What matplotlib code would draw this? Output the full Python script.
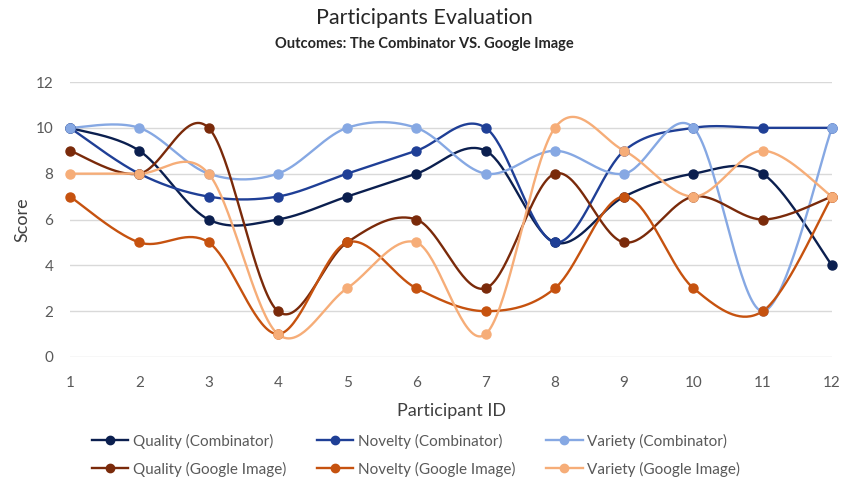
import numpy as np
import matplotlib
matplotlib.use("Agg")
import matplotlib.pyplot as plt
from matplotlib.lines import Line2D

plt.rcParams['font.family'] = ['Lato', 'DejaVu Sans']

participants = list(range(1, 13))
quality_comb = [10, 9, 6, 6, 7, 8, 9, 5, 7, 8, 8, 4]
novelty_comb = [10, 8, 7, 7, 8, 9, 10, 5, 9, 10, 10, 10]
variety_comb = [10, 10, 8, 8, 10, 10, 8, 9, 8, 10, 2, 10]
quality_goog = [9, 8, 10, 2, 5, 6, 3, 8, 5, 7, 6, 7]
novelty_goog = [7, 5, 5, 1, 5, 3, 2, 3, 7, 3, 2, 7]
variety_goog = [8, 8, 8, 1, 3, 5, 1, 10, 9, 7, 9, 7]

series = [
    ("Quality (Combinator)", quality_comb, "#0b1f4f"),
    ("Novelty (Combinator)", novelty_comb, "#1f3f96"),
    ("Variety (Combinator)", variety_comb, "#86a8e3"),
    ("Quality (Google Image)", quality_goog, "#7a2a0a"),
    ("Novelty (Google Image)", novelty_goog, "#c6520f"),
    ("Variety (Google Image)", variety_goog, "#f6ad78"),
]


def smooth(x, y, n=40):
    x = np.asarray(x, float)
    y = np.asarray(y, float)
    P = np.column_stack([x, y])
    Pe = np.vstack([P[0], P, P[-1]])
    out = []
    t = np.linspace(0, 1, n)[:, None]
    for i in range(len(P) - 1):
        p0 = Pe[i + 1]
        p3 = Pe[i + 2]
        c1 = p0 + (Pe[i + 2] - Pe[i]) / 6.0
        c2 = p3 - (Pe[i + 3] - Pe[i + 1]) / 6.0
        seg = ((1 - t) ** 3) * p0 + 3 * ((1 - t) ** 2) * t * c1 + 3 * (1 - t) * t ** 2 * c2 + t ** 3 * p3
        out.append(seg if i == 0 else seg[1:])
    s = np.vstack(out)
    return s[:, 0], s[:, 1]


fig = plt.figure(figsize=(8.49, 4.84), dpi=100)
ax = fig.add_axes([70 / 849, 127 / 484, (832 - 70) / 849, (402 - 127) / 484])

handles = []
for name, vals, col in series:
    sx, sy = smooth(participants, vals)
    ax.plot(sx, sy, color=col, lw=1.7, clip_on=False, zorder=3)
    ax.plot(participants, vals, 'o', color=col, ms=6.5, clip_on=False, zorder=4)
    handles.append(Line2D([0], [0], color=col, lw=1.7, marker='o', ms=6, label=name))

ax.set_xlim(1, 12)
ax.set_ylim(0, 12)
ax.set_xticks(participants)
ax.set_yticks(range(0, 13, 2))
ax.grid(axis='y', color='#d9d9d9', lw=1)
ax.set_axisbelow(True)
for s in ax.spines.values():
    s.set_visible(False)
ax.tick_params(length=0, labelsize=11, colors='#595959')
ax.tick_params(axis='x', pad=14)
ax.tick_params(axis='y', pad=12)

ax.set_xlabel("Participant ID", fontsize=13, color='#404040', labelpad=9)
ax.set_ylabel("Score", fontsize=13, color='#404040', labelpad=4)

fig.text(0.5, 1 - 18 / 484, "Participants Evaluation", ha='center', va='center', fontsize=15.5, color='#262626')
fig.text(0.5, 1 - 44 / 484, "Outcomes: The Combinator VS. Google Image", ha='center', va='center',
         fontsize=10.5, fontweight='bold', color='#262626')

order = [0, 3, 1, 4, 2, 5]
leg = fig.legend(handles=[handles[i] for i in order], ncol=3, loc='center',
                 bbox_to_anchor=(0.49, 1 - 455 / 484),
                 frameon=False, fontsize=11, handlelength=2.4, columnspacing=2.0,
                 labelspacing=0.85, handletextpad=0.3)
for t in leg.get_texts():
    t.set_color('#595959')

fig.savefig("out.png", dpi=100)
